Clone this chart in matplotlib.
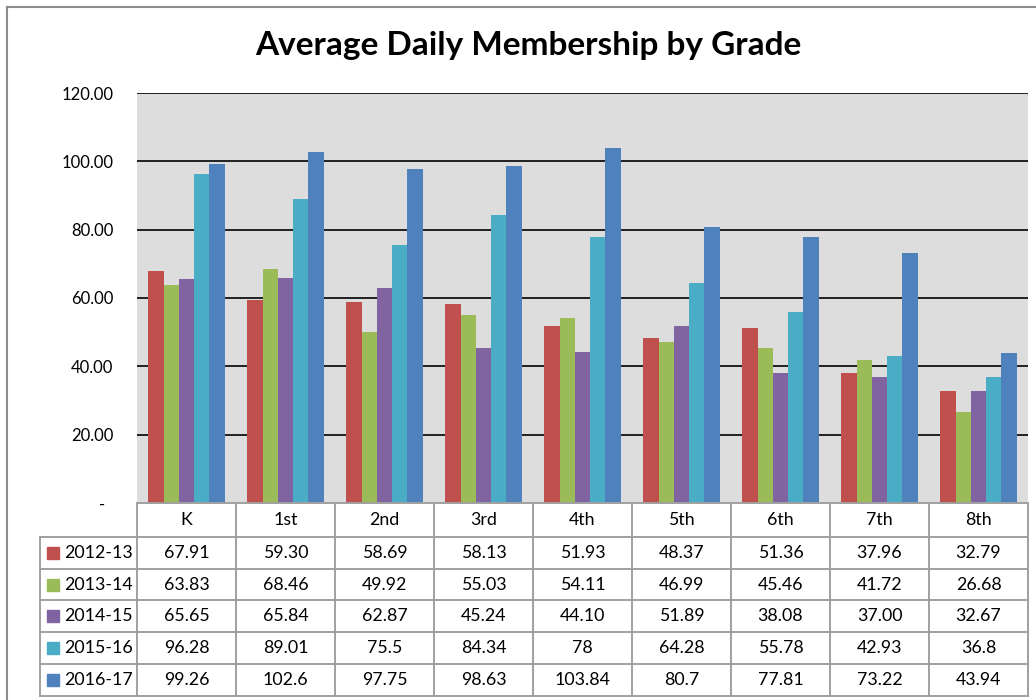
import numpy as np
import matplotlib
matplotlib.use("Agg")
import matplotlib.pyplot as plt
from matplotlib.lines import Line2D
from matplotlib.patches import Rectangle
from matplotlib.transforms import blended_transform_factory

plt.rcParams['font.family'] = ['Lato', 'DejaVu Sans']

grades = ['K', '1st', '2nd', '3rd', '4th', '5th', '6th', '7th', '8th']
years = ['2012-13', '2013-14', '2014-15', '2015-16', '2016-17']

# values as shown in the data table
adm_2012 = ['67.91', '59.30', '58.69', '58.13', '51.93', '48.37', '51.36', '37.96', '32.79']
adm_2013 = ['63.83', '68.46', '49.92', '55.03', '54.11', '46.99', '45.46', '41.72', '26.68']
adm_2014 = ['65.65', '65.84', '62.87', '45.24', '44.10', '51.89', '38.08', '37.00', '32.67']
adm_2015 = ['96.28', '89.01', '75.5', '84.34', '78', '64.28', '55.78', '42.93', '36.8']
adm_2016 = ['99.26', '102.6', '97.75', '98.63', '103.84', '80.7', '77.81', '73.22', '43.94']
series = [adm_2012, adm_2013, adm_2014, adm_2015, adm_2016]

yticks = [0, 20, 40, 60, 80, 100, 120]

colors = ['#C0504D', '#9BBB59', '#8064A2', '#4BACC6', '#4F81BD']
W, H = 1036, 700

fig = plt.figure(figsize=(W / 100, H / 100), dpi=100)


def fx(px):
    return px / W


def fy(py):
    return 1 - py / H


# plot area in pixels
left, right, top, bottom = 137, 1028, 93, 503
ax = fig.add_axes([fx(left), fy(bottom), fx(right - left), (bottom - top) / H])
ax.set_facecolor('#DDDDDD')

x = np.arange(len(grades))
bw = 1 / 6.5
for i, s in enumerate(series):
    vals = [float(v) for v in s]
    ax.bar(x + (i - 2) * bw, vals, width=bw, color=colors[i], zorder=3)

ax.set_xlim(-0.5, len(grades) - 0.5)
ax.set_ylim(0, 120)
ax.set_yticks(yticks)
ax.set_yticklabels(['-  '] + ['%.2f' % t for t in yticks[1:]], fontsize=12)
ax.tick_params(axis='y', length=0, pad=17)
ax.set_xticks([])
for t in yticks[1:]:
    ax.axhline(t, color='black', lw=1.2, zorder=2)
for sp in ax.spines.values():
    sp.set_visible(False)

fig.text(fx(528), fy(46), 'Average Daily Membership by Grade', ha='center', va='center',
         fontsize=24, fontweight='bold')

# outer chart frame (left and top edges visible)
fig.add_artist(Line2D([fx(7), fx(7)], [fy(7), 0], color='#8C8C8C', lw=1.5))
fig.add_artist(Line2D([fx(7), 1], [fy(7), fy(7)], color='#8C8C8C', lw=1.5))

# data table
tr = blended_transform_factory(ax.transData, fig.transFigure)
rows = [503, 537, 569, 600, 632, 664, 696]
gc = '#A0A0A0'
lw = 1.4
fig.add_artist(Line2D([fx(left), fx(right)], [fy(rows[0])] * 2, color=gc, lw=lw))
for r in rows[1:]:
    fig.add_artist(Line2D([fx(40), fx(right)], [fy(r)] * 2, color=gc, lw=lw))
fig.add_artist(Line2D([fx(40), fx(40)], [fy(rows[1]), fy(rows[-1])], color=gc, lw=lw))
for k in range(len(grades) + 1):
    ax.add_artist(Line2D([k - 0.5, k - 0.5], [fy(rows[0]), fy(rows[-1])], color=gc, lw=lw,
                         transform=tr, clip_on=False))

for k, g in enumerate(grades):
    fig.text(k, fy((rows[0] + rows[1]) / 2), g, transform=tr, ha='center', va='center',
             fontsize=12.8)

for i, s in enumerate(series):
    yc = fy((rows[i + 1] + rows[i + 2]) / 2)
    fig.add_artist(Rectangle((fx(47), yc - 6 / H), 12 / W, 12 / H,
                             transform=fig.transFigure, color=colors[i]))
    fig.text(fx(64), yc, years[i], ha='left', va='center', fontsize=12.8)
    for k, v in enumerate(s):
        fig.text(k, yc, v, transform=tr, ha='center', va='center', fontsize=12.8)

fig.savefig('out.png', dpi=100)
